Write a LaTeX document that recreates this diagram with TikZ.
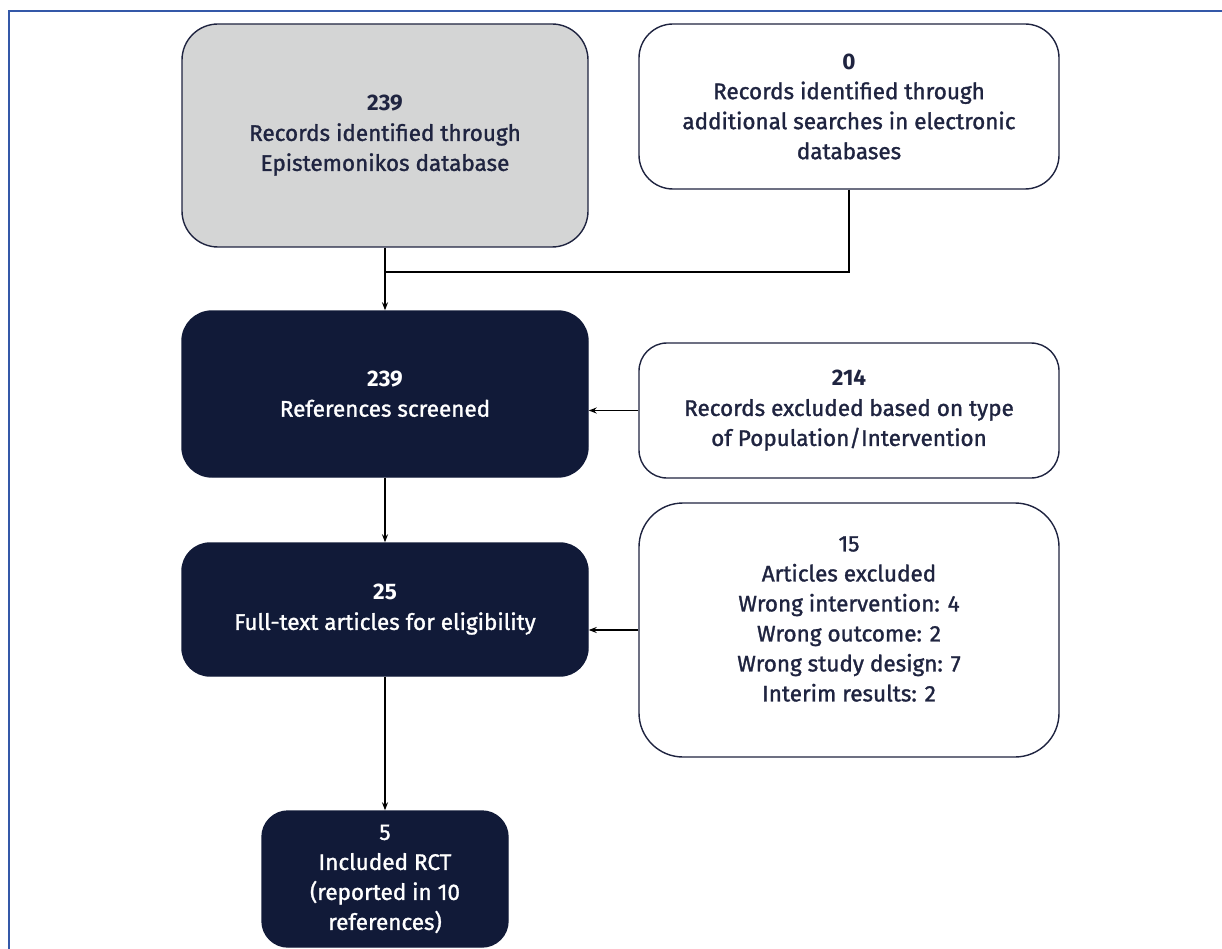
\documentclass[tikz,border=0pt]{standalone}
\usepackage{fontspec}
\setmainfont{Fira Sans}[UprightFeatures={FakeBold=1.3}]
\usetikzlibrary{arrows.meta}
\definecolor{navy}{HTML}{111A38}
\definecolor{inkc}{HTML}{1F2440}
\definecolor{grayfill}{HTML}{D4D5D5}
\definecolor{framec}{HTML}{3458A8}
\tikzset{
  box/.style={draw=inkc, line width=1.4pt, align=center, inner sep=0pt,
    font=\fontsize{22.5}{30}\selectfont, text=inkc},
  darkbox/.style={box, fill=navy, draw=navy, text=white},
  conn/.style={line width=1.2pt, draw=black},
  arr/.style={conn, -{Stealth[length=8pt,width=6pt]}},
}
\begin{document}
\begin{tikzpicture}[x=1pt,y=-1pt]
\useasboundingbox (0,0) rectangle (1222,949);
\draw[framec, line width=2pt] (9,949) -- (9,11) -- (1222,11);

\node[box, fill=grayfill, minimum width=406, minimum height=223, rounded corners=36] (a) at (385,135.5)
  {\textbf{239}\\Records identified through\\Epistemonikos database};
\node[box, fill=white, minimum width=420, minimum height=165, rounded corners=34] (b) at (849,106.5)
  {\textbf{0}\\Records identified through\\additional searches in electronic\\databases};
\node[darkbox, minimum width=406, minimum height=166, rounded corners=30] (c) at (385,394)
  {\textbf{239}\\References screened};
\node[box, fill=white, minimum width=420, minimum height=135, rounded corners=28] (d) at (849,410.5)
  {\textbf{214}\\Records excluded based on type\\of Population/Intervention};
\node[darkbox, minimum width=406, minimum height=133, rounded corners=28] (e) at (385,609.5)
  {\textbf{25}\\Full-text articles for eligibility};
\node[box, fill=white, minimum width=420, minimum height=254, rounded corners=44] (f) at (849,630) {};
\node[align=center, text=inkc, font=\fontsize{22.5}{30}\selectfont, inner sep=0pt] (ft) at (849,619)
  {15\\Articles excluded\\Wrong intervention: 4\\Wrong outcome: 2\\Wrong study design: 7\\Interim results: 2};
\node[darkbox, minimum width=246, minimum height=136, rounded corners=26] (g) at (385,879)
  {5\\Included RCT\\(reported in 10\\references)};

\coordinate (j) at (a.south |- 0,272);
\draw[conn] (b.south) |- (j);
\draw[arr] (a.south) -- (c.north);
\draw[arr] (d.west) -- (c.east |- d.west);
\draw[arr] (c.south) -- (e.north);
\draw[arr] (f.west) -- (e.east |- f.west);
\draw[arr] (e.south) -- (g.north);
\end{tikzpicture}
\end{document}
